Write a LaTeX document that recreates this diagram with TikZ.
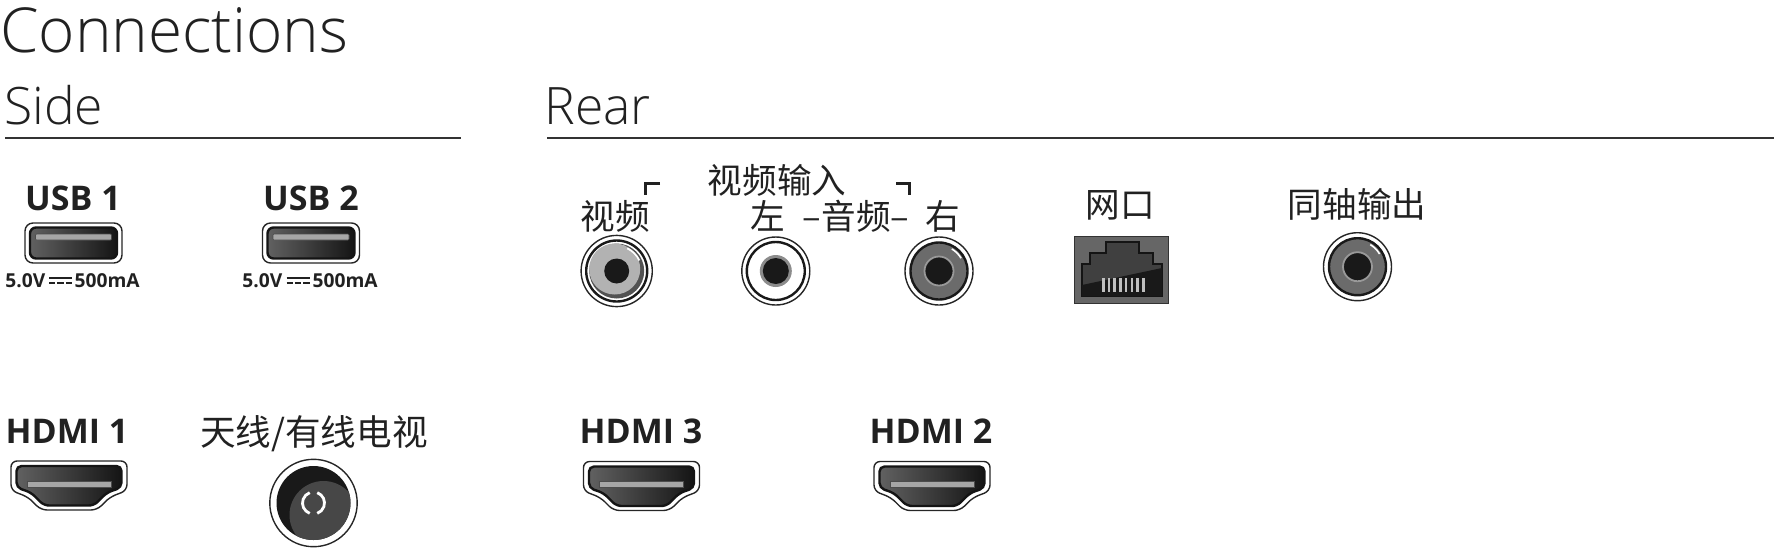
\documentclass[tikz,border=0pt]{standalone}
\usepackage{fontspec}
\setmainfont{Open Sans}
\newfontfamily\lightfont{Open Sans}[UprightFont=* Light]
\newfontfamily\cjk{Noto Sans CJK SC}
\usetikzlibrary{positioning}
\colorlet{inkcol}{black!87}
\tikzset{
  heading/.style={inner sep=0pt, anchor=base west, font=\lightfont\fontsize{25.8}{25.8}\selectfont, text=inkcol},
  portname/.style={inner sep=0pt, anchor=base, font=\bfseries\fontsize{17}{17}\selectfont, text=inkcol},
  cjklabel/.style={inner sep=0pt, anchor=base, font=\cjk\fontsize{17.3}{17.3}\selectfont, text=inkcol},
  ratelabel/.style={inner sep=0pt, font=\bfseries\fontsize{9.6}{9.6}\selectfont, text=inkcol},
  rule/.style={line width=0.7pt, black!80},
  corner/.style={line width=1.5pt, inkcol},
  rim/.style={draw=black!85, line width=0.7pt, fill=white},
  ring/.style={draw=black!90, line width=1.2pt},
  body/.style={draw=black!92, line width=1.2pt, left color=black!62, right color=black!92},
  blade/.style={draw=black!70, line width=0.3pt, fill=black!35},
  usbport/.pic={
    \draw[rim, rounded corners=4pt] (-48.5,-20) rectangle (48.5,20);
    \draw[body, rounded corners=3pt] (-43.5,-15.5) rectangle (43.5,15.5);
    \draw[blade, rounded corners=0.5pt] (-38,-9) rectangle (38,-3);
  },
  hdmiport/.pic={
    \draw[rim, rounded corners=3pt] (-58,-24.5) -- (58,-24.5) -- (58,5) -- (41,11.5) -- (28,24.5) -- (-28,24.5) -- (-41,11.5) -- (-58,5) -- cycle;
    \draw[body, rounded corners=2.5pt] (-52.5,-19.5) -- (52.5,-19.5) -- (52.5,2) -- (38,7) -- (25,20) -- (-25,20) -- (-38,7) -- (-52.5,2) -- cycle;
    \draw[blade] (-42,-4.5) rectangle (42,1.5);
  },
  rfport/.pic={
    \draw[rim, line width=0.7pt] (0,0) circle (43.7);
    \fill[black!90] (0,0) circle (37);
    \begin{scope}
      \clip (0,0) circle (37);
      \fill[black!72] (10,12) circle (34);
    \end{scope}
    \draw[white, line width=1.4pt] (-70:11) arc (-70:70:11);
    \draw[white, line width=1.4pt] (110:11) arc (110:250:11);
  },
  videoport/.pic={
    \draw[rim] (0,0) circle (35.6);
    \draw[ring] (0,0) circle (30.5);
    \fill[black!68] (0,0) circle (27.5);
    \fill[black!30] (-2,-2) circle (25.5);
    \draw[white, line width=0.9pt] (-65:25) arc (-65:-25:25);
    \fill[black!90] (0,0) circle (12.5);
  },
  leftport/.pic={
    \draw[rim] (0,0) circle (34);
    \draw[ring] (0,0) circle (29);
    \fill[black!45] (0,0) circle (16);
    \fill[black!90] (0,0) circle (13);
  },
  darkport/.pic={
    \draw[rim] (0,0) circle (34);
    \draw[ring, fill=black!58] (0,0) circle (28.5);
    \draw[white, line width=0.8pt] (-60:25.5) arc (-60:-30:25.5);
    \draw[black!40, line width=0.9pt, fill=black!90] (0,0) circle (14.5);
  },
  dcmark/.pic={
    \draw[inkcol, line width=1pt] (0,-2.5) -- (23,-2.5);
    \draw[inkcol, line width=1pt, dash pattern=on 3.1pt off 1.1pt] (0,2.5) -- (23,2.5);
  },
  lanport/.pic={
    \draw[black!80, line width=0.5pt, fill=black!60] (-47,-33.5) rectangle (47,33.5);
    \draw[black!92, line width=1.1pt, fill=black!75] (-39,26.5) -- (-39,-5.5) -- (-31,-5.5) -- (-31,-16.5) -- (-15,-16.5) -- (-15,-27.5) -- (18,-27.5) -- (18,-16.5) -- (32,-16.5) -- (32,-5.5) -- (41,-5.5) -- (41,26.5) -- cycle;
    \fill[black!90] (-39,15.5) -- (41,-1.5) -- (41,26.5) -- (-39,26.5) -- cycle;
    \foreach \pinx in {0,...,7}
      \fill[black!25] (-19+\pinx*5.7,8.5) rectangle ++(2.6,14);
  },
}
\begin{document}
\begin{tikzpicture}[x=0.5pt,y=-0.5pt]
\useasboundingbox (0,0) rectangle (1774,548);

% headings
\node[heading, font=\lightfont\fontsize{31}{31}\selectfont] (title) at (0,52) {Connections};
\node[heading] (side) at (4,124) {Side};
\node[heading] (rear) at (544,124) {Rear};
\draw[rule] (5,138) -- (461,138);
\draw[rule] (547,138) -- (1774,138);

% side
\node[portname] (usb1) at (73,210) {USB 1};
\node[portname] (usb2) at (311,210) {USB 2};
\pic (usbport1) at (73.5,243) {usbport};
\pic (usbport2) at (311,243) {usbport};
\node[ratelabel, anchor=base west] (volt1) at (5,287) {5.0V};
\node[ratelabel, anchor=base east] (amp1) at (140,287) {500mA};
\pic (dc1) at (49,280.5) {dcmark};
\node[ratelabel, anchor=base west] (volt2) at (242,287) {5.0V};
\node[ratelabel, anchor=base east] (amp2) at (378,287) {500mA};
\pic (dc2) at (286.5,280.5) {dcmark};
\node[portname] (hdmi1) at (67,443) {HDMI 1};
\pic (hdmiport1) at (69,485.5) {hdmiport};
\node[cjklabel, font=\cjk\fontsize{17.8}{17.8}\selectfont] (aerial) at (314,445) {天线/有线电视};
\pic (rf) at (313.5,503) {rfport};

% rear
\node[cjklabel] (input) at (777,193) {视频输入};
\node[cjklabel] (video) at (615,229) {视频};
\node[cjklabel] (left) at (768,229) {左};
\node[cjklabel] (audio) at (856,229) {–音频–};
\node[cjklabel] (right) at (943,229) {右};
\draw[corner] (660,183) -- (645,183) -- (645,195);
\draw[corner] (896,183) -- (909,183) -- (909,195);
\pic (videojack) at (616.7,271) {videoport};
\pic (leftjack) at (775.8,271) {leftport};
\pic (rightjack) at (939,271) {darkport};
\node[cjklabel] (net) at (1120.5,217) {网口};
\pic (lan) at (1121,269.5) {lanport};
\node[cjklabel] (coax) at (1357,217) {同轴输出};
\pic (coaxjack) at (1357.5,266.7) {darkport};
\node[portname] (hdmi3) at (641,443) {HDMI 3};
\node[portname] (hdmi2) at (931,443) {HDMI 2};
\pic (hdmiport3) at (641.5,486) {hdmiport};
\pic (hdmiport2) at (932,486) {hdmiport};

\end{tikzpicture}
\end{document}
